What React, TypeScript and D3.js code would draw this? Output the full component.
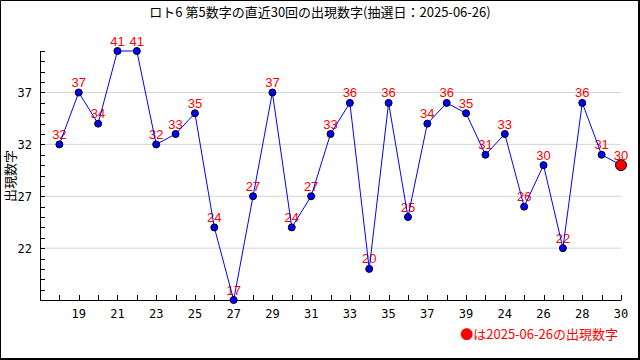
import React from "react";
import * as d3 from "d3";

// ロト6 第5数字 直近30回
const drawValues = [32, 37, 34, 41, 41, 32, 33, 35, 24, 17, 27, 37, 24, 27, 33, 36, 20, 36, 25, 34, 36, 35, 31, 33, 26, 30, 22, 36, 31, 30];
const xTickLabels = ["19", "21", "23", "25", "27", "29", "31", "33", "35", "37", "39", "24", "26", "28", "30"];
const yTickValues = [22, 27, 32, 37];
const titleText = "ロト6 第5数字の直近30回の出現数字(抽選日：2025-06-26)";
const yAxisTitle = "出現数字";
const legendText = "●は2025-06-26の出現数字";

const W = 640;
const H = 360;
const cjk = "'Noto Sans CJK JP', sans-serif";
const mono = "'DejaVu Sans Mono', 'Noto Sans CJK JP', monospace";
const sans = "'Liberation Sans', Arial, sans-serif";

export default function App() {
  const x = d3.scaleLinear().domain([0, drawValues.length]).range([40, 621]);
  const y = d3.scaleLinear().domain([d3.min(drawValues)!, d3.max(drawValues)!]).range([300, 51]);

  const pts = drawValues.map((v, i) => ({ v, px: x(i + 1), py: y(v) }));
  const line = d3.line<{ px: number; py: number }>().x(d => d.px).y(d => d.py);

  const xTicks = d3.range(0, drawValues.length + 1);
  const xLabelPos = d3.range(2, drawValues.length + 1, 2);
  const yTicks = d3.range(y.domain()[0], y.domain()[1] + 1);
  const last = pts[pts.length - 1];

  return (
    <svg width={W} height={H} style={{ position: "absolute", left: 0, top: 0, background: "#fff" }}>
      <rect x={0} y={0} width={W} height={H} fill="#fff" />
      {/* frame */}
      <path d={`M0.5,${H} V0.5 H639`} fill="none" stroke="#000" strokeWidth={1} />
      <path d={`M639,0 V359 H0`} fill="none" stroke="#000" strokeWidth={2} />

      <text x={320} y={17} textAnchor="middle" fontFamily={cjk} fontSize={13} fill="#000">{titleText}</text>

      {/* grid */}
      {yTickValues.map(t => (
        <line key={"g" + t} x1={40} x2={621} y1={y(t)} y2={y(t)} stroke="#d4d4d4" strokeWidth={1} />
      ))}

      {/* axes */}
      <line x1={40.5} x2={40.5} y1={y(41)} y2={300.5} stroke="#000" />
      <line x1={40} x2={621.5} y1={300.5} y2={300.5} stroke="#000" />
      {yTicks.map(t => (
        <line key={"yt" + t} x1={40} x2={45} y1={Math.round(y(t)) + 0.5} y2={Math.round(y(t)) + 0.5} stroke="#000" />
      ))}
      {xTicks.map(t => (
        <line key={"xt" + t} x1={Math.round(x(t)) + 0.5} x2={Math.round(x(t)) + 0.5} y1={295} y2={300} stroke="#000" />
      ))}
      {yTickValues.map(t => (
        <text key={"yl" + t} x={32} y={y(t) + 4.5} textAnchor="end" fontFamily={mono} fontSize={12} fill="#000">{t}</text>
      ))}
      {xLabelPos.map((p, i) => (
        <text key={"xl" + p} x={x(p)} y={317.5} textAnchor="middle" fontFamily={mono} fontSize={12} fill="#000">{xTickLabels[i]}</text>
      ))}

      <text transform={`translate(15,176) rotate(-90)`} textAnchor="middle" fontFamily={cjk} fontSize={13} fill="#000">{yAxisTitle}</text>

      {/* value labels under the line */}
      {pts.map((d, i) => (
        <text key={"vl" + i} x={d.px} y={d.py - 5.5} textAnchor="middle" fontFamily={sans} fontSize={13} fill="#ff0000">{d.v}</text>
      ))}

      <path d={line(pts) || ""} fill="none" stroke="#0000ff" strokeWidth={1} />
      {pts.slice(0, -1).map((d, i) => (
        <circle key={"c" + i} cx={d.px} cy={d.py} r={3.5} fill="#0000ff" stroke="#000" strokeWidth={1} />
      ))}
      <circle cx={last.px} cy={last.py} r={5.5} fill="#ff0000" stroke="#000" strokeWidth={1} />

      <text x={618} y={339} textAnchor="end" fontFamily={cjk} fontSize={13} fill="#ff0000">{legendText}</text>
    </svg>
  );
}
